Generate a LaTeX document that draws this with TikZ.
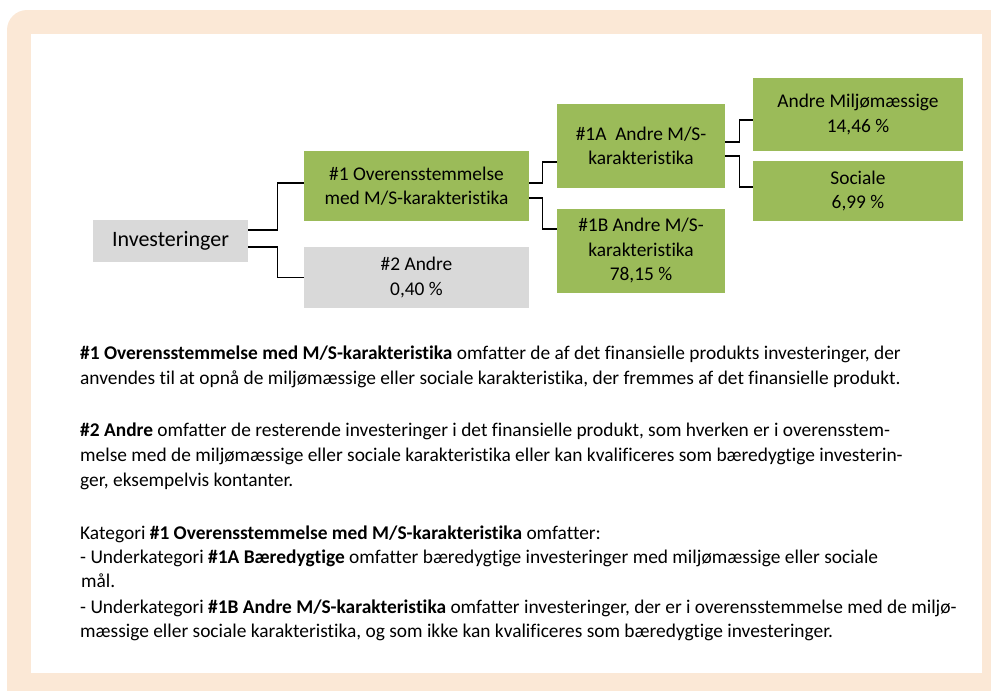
\documentclass[tikz,border=0pt]{standalone}
\usepackage{fontspec}
\setmainfont{Carlito}[Ligatures=NoCommon, RawFeature={-liga;-clig;-dlig}]
\definecolor{frame}{HTML}{FBE8D6}
\definecolor{boxgreen}{HTML}{9BBB59}
\definecolor{boxgray}{HTML}{D9D9D9}
\tikzset{
  box/.style={inner sep=0pt, align=center, font=\fontsize{19.4}{24.5}\selectfont, text=black},
  greenbox/.style={box, fill=boxgreen},
  graybox/.style={box, fill=boxgray},
  conn/.style={draw=black, line width=1.3pt},
  bodytext/.style={anchor=base west, inner sep=0pt, font=\fontsize{19.4}{24}\selectfont}
}
\begin{document}
\begin{tikzpicture}[x=1pt,y=-1pt]
\useasboundingbox (0,0) rectangle (991,691);
\begin{scope}
\clip (0,0) rectangle (991,691);
\fill[frame, rounded corners=20pt] (7,10) rectangle (1030,730);
\fill[white] (31,34) rectangle (982,673);
\end{scope}

\node[graybox, minimum width=155pt, minimum height=42pt, font=\fontsize{22}{26}\selectfont] (inv) at (170.5,241) {Investeringer};
\node[greenbox, minimum width=225pt, minimum height=70pt] (n1) at (416.5,186) {\#1 Overensstemmelse\\med M/S-karakteristika};
\node[graybox, minimum width=225pt, minimum height=61pt] (n2) at (416.5,277.5) {\#2 Andre\\0,40 \%};
\node[greenbox, minimum width=168pt, minimum height=84pt] (n1a) at (641,146) {\#1A\ \ Andre M/S-\\karakteristika};
\node[greenbox, minimum width=168pt, minimum height=84pt] (n1b) at (641,251) {\#1B Andre M/S-\\karakteristika\\78,15 \%};
\node[greenbox, minimum width=210pt, minimum height=73pt] (nmil) at (858,114.5) {Andre Miljømæssige\\14,46 \%};
\node[greenbox, minimum width=210pt, minimum height=60pt] (nsoc) at (858,191) {Sociale\\6,99 \%};

\draw[conn] ([yshift=11pt]inv.east) -- ++(29,0) |- ([yshift=3pt]n1.west);
\draw[conn] ([yshift=-6pt]inv.east) -- ++(29,0) |- (n2.west);
\draw[conn] ([yshift=3pt]n1.east) -- ++(13,0) |- ([yshift=-16pt]n1a.west);
\draw[conn] ([yshift=-12pt]n1.east) -- ++(13,0) |- ([yshift=22pt]n1b.west);
\draw[conn] ([yshift=4pt]n1a.east) -- ++(14,0) |- ([yshift=-5.5pt]nmil.west);
\draw[conn] ([yshift=-10pt]n1a.east) -- ++(14,0) |- ([yshift=4pt]nsoc.west);

\node[bodytext] (t1) at (80,359) {\textbf{\#1 Overensstemmelse med M/S-karakteristika} omfatter de af det finansielle produkts investeringer, der};
\node[bodytext] (t2) at (80,384) {anvendes til at opnå de miljømæssige eller sociale karakteristika, der fremmes af det finansielle produkt.};
\node[bodytext] (t3) at (80,436) {\textbf{\#2 Andre} omfatter de resterende investeringer i det finansielle produkt, som hverken er i overensstem-};
\node[bodytext] (t4) at (80,461) {melse med de miljømæssige eller sociale karakteristika eller kan kvalificeres som bæredygtige investerin-};
\node[bodytext] (t5) at (80,486) {ger, eksempelvis kontanter.};
\node[bodytext] (t6) at (80,539) {Kategori \textbf{\#1 Overensstemmelse med M/S-karakteristika} omfatter:};
\node[bodytext] (t7) at (80,563) {- Underkategori \textbf{\#1A Bæredygtige} omfatter bæredygtige investeringer med miljømæssige eller sociale};
\node[bodytext] (t8) at (81,587) {mål.};
\node[bodytext] (t9) at (80,613) {- Underkategori \textbf{\#1B Andre M/S-karakteristika} omfatter investeringer, der er i overensstemmelse med de miljø-};
\node[bodytext] (t10) at (80,637) {mæssige eller sociale karakteristika, og som ikke kan kvalificeres som bæredygtige investeringer.};
\end{tikzpicture}
\end{document}
